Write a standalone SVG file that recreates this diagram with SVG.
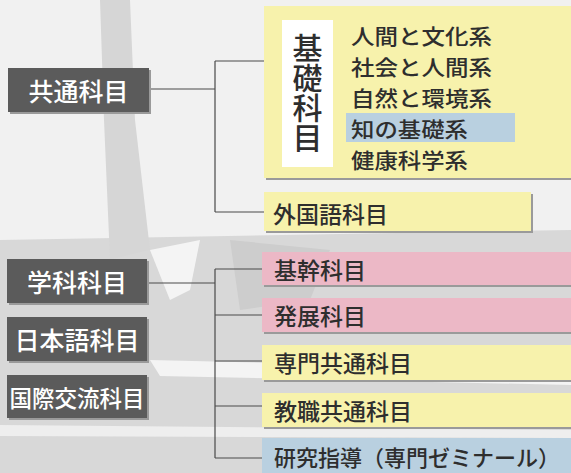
<svg xmlns="http://www.w3.org/2000/svg" width="571" height="473" viewBox="0 0 571 473">
<style>
text{font-family:"Noto Sans CJK JP","Noto Sans",sans-serif;font-weight:500;}
.dark{fill:#5b5b5b;}
.shadow{fill:#9a9a9a;}
.wt{fill:#ffffff;font-size:25px;dominant-baseline:central;}
.bt{fill:#2e2e2e;font-size:23px;dominant-baseline:central;}
.st{fill:#2e2e2e;font-size:21px;dominant-baseline:central;}
.lt{fill:#2e2e2e;font-size:22px;dominant-baseline:central;}
.yel{fill:#f7f2ac;}
.pink{fill:#ecb8c6;}
.blue{fill:#b9d0e0;}
.conn{stroke:#4a4a4a;stroke-width:1.2;fill:none;}
</style>
<g id="background">
<rect x="0" y="0" width="571" height="473" fill="#f1f1f1"/>
<path d="M0 240 L571 230 L571 473 L0 473 Z" fill="#d8d8d8"/>
<path d="M100 0 L130 0 L135 120 L150 250 L110 260 L104 120 Z" fill="#d6d6d6"/>
<path d="M230 240 L330 250 L310 300 L240 310 Z" fill="#cdcdcd"/>
<path d="M150 360 L571 370 L571 385 L160 376 Z" fill="#f4f4f4"/>
<path d="M0 425 L571 430 L571 438 L0 436 Z" fill="#eeeeee"/>
<path d="M150 250 L200 240 L190 290 L170 300 Z" fill="#f4f4f4"/>
</g>
<g id="connectors">
<path class="conn" d="M150 89 H215 M215 61 V212 M215 61 H264 M215 212 H264"/>
<path class="conn" d="M148 283 H215 M215 269 V458 M215 269 H262 M215 315 H262 M215 361 H262 M215 406 H262 M215 458 H262"/>
</g>
<g id="n-kyotsu">
<rect class="shadow" x="10" y="70" width="141" height="44"/>
<rect class="dark" x="8" y="68" width="141" height="44"/>
<text class="wt" x="78.5" y="90" text-anchor="middle">共通科目</text>
</g>
<g id="n-gakka">
<rect class="shadow" x="9" y="261" width="140" height="44"/>
<rect class="dark" x="7" y="259" width="140" height="44"/>
<text class="wt" x="77" y="281" text-anchor="middle">学科科目</text>
</g>
<g id="n-nihongo">
<rect class="shadow" x="9" y="319" width="140" height="44"/>
<rect class="dark" x="7" y="317" width="140" height="44"/>
<text class="wt" x="77" y="339" text-anchor="middle">日本語科目</text>
</g>
<g id="n-kokusai">
<rect class="shadow" x="9" y="377" width="140" height="43"/>
<rect class="dark" x="7" y="375" width="140" height="43"/>
<text class="wt" x="77" y="397" text-anchor="middle" style="font-size:22.5px">国際交流科目</text>
</g>
<g id="n-kiso">
<rect class="shadow" x="266" y="8" width="305" height="172"/>
<rect class="yel" x="264" y="6" width="307" height="172"/>
<rect x="282" y="20" width="51" height="147" fill="#ffffff"/>
<text x="307.5" y="33" writing-mode="vertical-rl" style="font-size:30px;fill:#2e2e2e">基礎科目</text>
<rect class="blue" x="346" y="113" width="169" height="29"/>
<text class="st" x="351" y="35" textLength="141" lengthAdjust="spacingAndGlyphs">人間と文化系</text>
<text class="st" x="351" y="66" textLength="141" lengthAdjust="spacingAndGlyphs">社会と人間系</text>
<text class="st" x="351" y="97" textLength="141" lengthAdjust="spacingAndGlyphs">自然と環境系</text>
<text class="st" x="351" y="128" textLength="117" lengthAdjust="spacingAndGlyphs">知の基礎系</text>
<text class="st" x="351" y="159" textLength="117" lengthAdjust="spacingAndGlyphs">健康科学系</text>
</g>
<g id="n-gaikokugo">
<rect class="shadow" x="266" y="194" width="267" height="39"/>
<rect class="yel" x="264" y="192" width="267" height="39"/>
<text class="bt" x="273" y="213">外国語科目</text>
</g>
<g id="n-kikan">
<rect class="shadow" x="264" y="254" width="307" height="33"/>
<rect class="pink" x="262" y="252" width="309" height="33"/>
<text class="bt" x="274" y="269">基幹科目</text>
</g>
<g id="n-hatten">
<rect class="shadow" x="264" y="300" width="307" height="34"/>
<rect class="pink" x="262" y="298" width="309" height="34"/>
<text class="bt" x="274" y="315">発展科目</text>
</g>
<g id="n-senmon">
<rect class="shadow" x="264" y="347" width="307" height="35"/>
<rect class="yel" x="262" y="345" width="309" height="35"/>
<text class="bt" x="274" y="362">専門共通科目</text>
</g>
<g id="n-kyoshoku">
<rect class="shadow" x="264" y="395" width="307" height="34"/>
<rect class="yel" x="262" y="393" width="309" height="34"/>
<text class="bt" x="274" y="410">教職共通科目</text>
</g>
<g id="n-kenkyu">
<rect class="blue" x="262" y="438" width="309" height="35"/>
<text class="lt" x="274" y="456">研究指導（専門ゼミナール）</text>
</g>
</svg>
